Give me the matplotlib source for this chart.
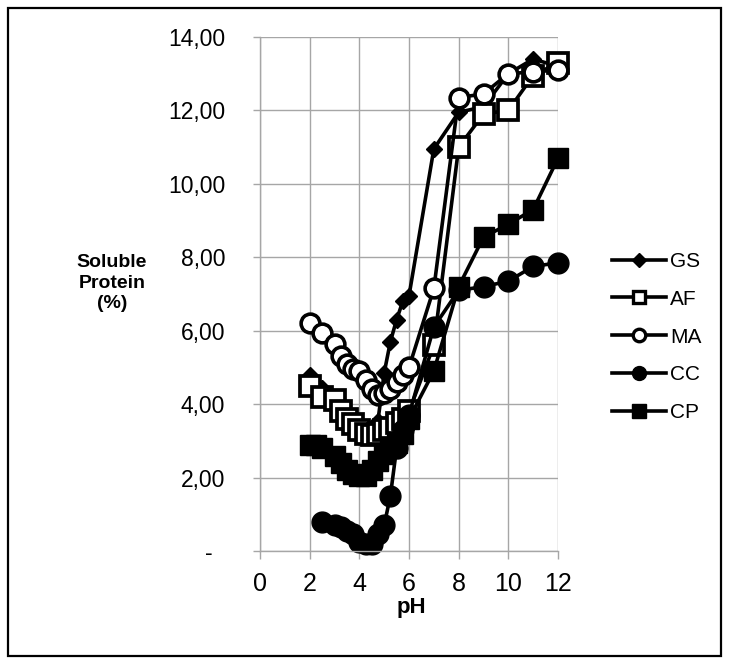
import matplotlib
matplotlib.use("Agg")
import matplotlib.pyplot as plt
from matplotlib.lines import Line2D
from matplotlib.patches import Rectangle
from matplotlib.ticker import FuncFormatter

plt.rcParams['font.family'] = ['Liberation Sans', 'DejaVu Sans']

# ---- data ----
ph_gs = [2, 2.5, 3, 3.25, 3.5, 3.75, 4, 4.25, 4.5, 4.75, 5, 5.25, 5.5, 5.75, 6, 7, 8, 9, 10, 11, 12]
gs = [4.8, 4.45, 4.1, 3.85, 3.65, 3.5, 3.4, 3.3, 3.3, 3.55, 4.85, 5.7, 6.3, 6.8, 6.95, 10.95, 11.95, 12.1, 13.0, 13.4, 13.2]

ph_af = [2, 2.5, 3, 3.25, 3.5, 3.75, 4, 4.25, 4.5, 4.75, 5, 5.25, 5.5, 5.75, 6, 7, 8, 9, 10, 11, 12]
af = [4.5, 4.2, 4.1, 3.8, 3.6, 3.45, 3.3, 3.2, 3.15, 3.2, 3.3, 3.35, 3.5, 3.6, 3.8, 5.6, 11.0, 11.9, 12.0, 12.95, 13.3]

ph_ma = [2, 2.5, 3, 3.25, 3.5, 3.75, 4, 4.25, 4.5, 4.75, 5, 5.25, 5.5, 5.75, 6, 7, 8, 9, 10, 11, 12]
ma = [6.2, 5.95, 5.65, 5.3, 5.1, 4.95, 4.9, 4.65, 4.4, 4.25, 4.3, 4.4, 4.6, 4.8, 5.0, 7.15, 12.35, 12.45, 13.0, 13.05, 13.1]

ph_cc = [2.5, 3, 3.25, 3.5, 3.75, 4, 4.25, 4.5, 4.75, 5, 5.25, 5.5, 5.75, 6, 7, 8, 9, 10, 11, 12]
cc = [0.8, 0.72, 0.65, 0.55, 0.45, 0.25, 0.2, 0.18, 0.45, 0.7, 1.5, 2.8, 3.3, 3.7, 6.1, 7.1, 7.2, 7.35, 7.75, 7.85]

ph_cp = [2, 2.25, 2.5, 3, 3.25, 3.5, 3.75, 4, 4.25, 4.5, 4.75, 5, 5.25, 5.5, 5.75, 6, 7, 8, 9, 10, 11, 12]
cp = [2.9, 2.9, 2.8, 2.6, 2.4, 2.2, 2.1, 2.05, 2.05, 2.2, 2.45, 2.65, 2.8, 2.95, 3.2, 3.6, 4.9, 7.2, 8.55, 8.9, 9.3, 10.7]

labels = ['GS', 'AF', 'MA', 'CC', 'CP']
x_ticks = [0, 2, 4, 6, 8, 10, 12]
y_ticks = [0, 2, 4, 6, 8, 10, 12, 14]

# ---- figure ----
fig = plt.figure(figsize=(7.29, 6.64), dpi=100)
fig.patches.append(Rectangle((8 / 729, 8 / 664), 713 / 729, 648 / 664,
                             transform=fig.transFigure, fill=False,
                             edgecolor='black', linewidth=1.6))

ax = fig.add_axes([260 / 729, 1 - 551 / 664, 298 / 729, 514 / 664])
grey = '#a6a6a6'
lw = 2.6

series = [
    (ph_gs, gs, dict(marker='D', markersize=8, markerfacecolor='black', markeredgecolor='black')),
    (ph_af, af, dict(marker='s', markersize=14, markerfacecolor='white', markeredgecolor='black', markeredgewidth=2.7)),
    (ph_ma, ma, dict(marker='o', markersize=13.5, markerfacecolor='white', markeredgecolor='black', markeredgewidth=2.6)),
    (ph_cc, cc, dict(marker='o', markersize=15, markerfacecolor='black', markeredgecolor='black')),
    (ph_cp, cp, dict(marker='s', markersize=15, markerfacecolor='black', markeredgecolor='black')),
]
for (xs, ys, st), lab in zip(series, labels):
    ax.plot(xs, ys, color='black', linewidth=lw, label=lab, clip_on=False, **st)

ax.set_xlim(0, 12)
ax.set_ylim(0, 14)
ax.set_xticks(x_ticks)
ax.set_yticks(y_ticks)
ax.yaxis.set_major_formatter(FuncFormatter(
    lambda v, p: '-  ' if v == 0 else f'{v:.2f}'.replace('.', ',')))
ax.grid(True, color=grey, linewidth=1.0)
ax.set_axisbelow(True)
for s in ['top', 'right']:
    ax.spines[s].set_visible(False)
for s in ['left', 'bottom']:
    ax.spines[s].set_color(grey)
    ax.spines[s].set_linewidth(1.0)
ax.tick_params(axis='y', direction='out', length=5, width=1, color=grey,
               pad=20, labelsize=16.5, labelcolor='black')
ax.tick_params(axis='x', direction='out', length=6, width=1, color=grey,
               pad=9, labelsize=18, labelcolor='black')

fig.text(112 / 729, 1 - 283 / 664, 'Soluble\nProtein\n(%)', ha='center', va='center',
         fontsize=14, fontweight='bold', linespacing=1.3)
fig.text(411 / 729, 1 - 607 / 664, 'pH', ha='center', va='center',
         fontsize=16, fontweight='bold')

handles = [
    Line2D([], [], color='black', linewidth=lw, marker='D', markersize=7, markerfacecolor='black'),
    Line2D([], [], color='black', linewidth=lw, marker='s', markersize=9, markerfacecolor='white', markeredgewidth=2.4),
    Line2D([], [], color='black', linewidth=lw, marker='o', markersize=9, markerfacecolor='white', markeredgewidth=2.4),
    Line2D([], [], color='black', linewidth=lw, marker='o', markersize=10, markerfacecolor='black'),
    Line2D([], [], color='black', linewidth=lw, marker='s', markersize=10, markerfacecolor='black'),
]
fig.legend(handles, labels, loc='upper left', bbox_to_anchor=(612 / 729, 1 - 252 / 664),
           frameon=False, fontsize=15, handlelength=2.6, handletextpad=0.2,
           labelspacing=0.9, borderpad=0, borderaxespad=0)

fig.savefig('out.png', dpi=100)
